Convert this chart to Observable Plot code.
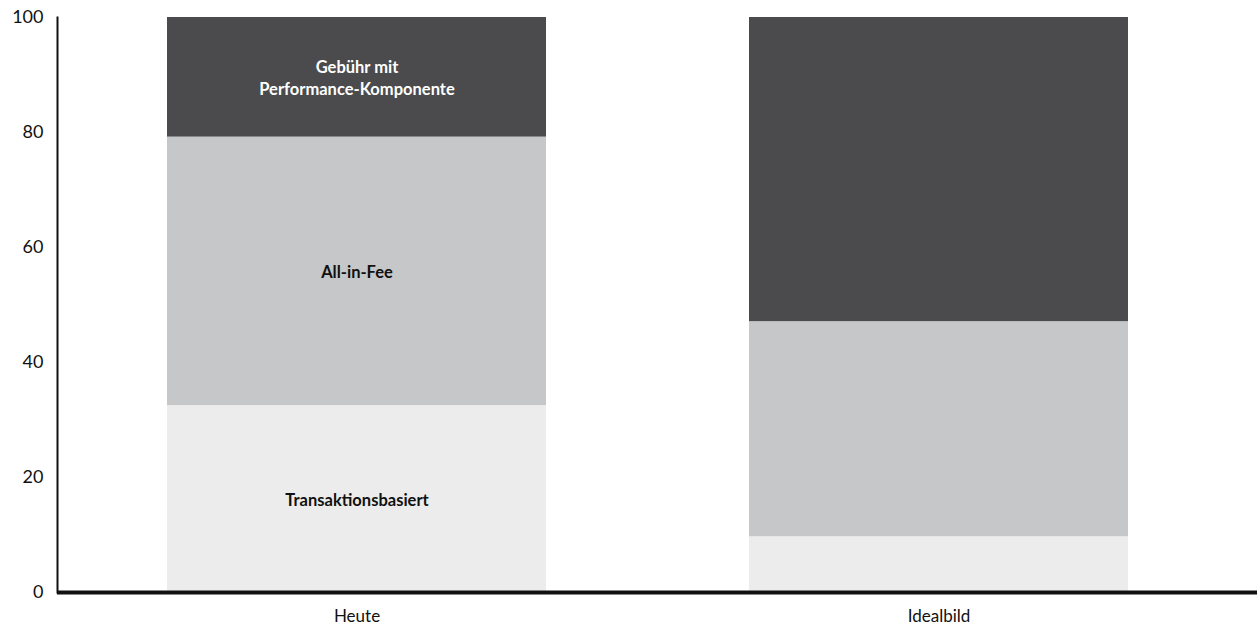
<!DOCTYPE html>
<html>
<head>
<meta charset="utf-8">
<script src="https://cdn.jsdelivr.net/npm/d3@7"></script>
<script src="https://cdn.jsdelivr.net/npm/@observablehq/plot@0.6"></script>
<style>
  html, body { margin: 0; padding: 0; background: #fff; }
  #chart svg { display: block; }
</style>
</head>
<body>
<div id="chart"></div>
<script>
// Fee models, share in percent, stacked bottom to top
const categories = ["Heute", "Idealbild"];
const types = ["Transaktionsbasiert", "All-in-Fee", "Gebühr mit\nPerformance-Komponente"];
const transaktionsbasiert = [32.5, 9.7];
const allInFee = [46.7, 37.4];
const gebuehr = [20.8, 52.9];
const yTicks = [0, 20, 40, 60, 80, 100];

const series = [transaktionsbasiert, allInFee, gebuehr];
const data = [];
categories.forEach((cat, i) => {
  types.forEach((type, j) => {
    data.push({category: cat, type, value: series[j][i]});
  });
});

const colors = ["#ebeceb", "#c6c7c8", "#4b4b4d"];
const textColors = {"Transaktionsbasiert": "#111", "All-in-Fee": "#111", "Gebühr mit\nPerformance-Komponente": "#fff"};

const chart = Plot.plot({
  width: 1257,
  height: 629,
  marginTop: 17,
  marginBottom: 37,
  marginLeft: 57,
  marginRight: 0,
  style: {fontFamily: "Lato, sans-serif", background: "#fff"},
  x: {domain: categories, range: [57, 1238], paddingInner: 0.349, paddingOuter: 0.189, label: null},
  y: {domain: [0, 100], label: null},
  color: {domain: types, range: colors},
  marks: [
    Plot.barY(data, Plot.stackY({x: "category", y: "value", fill: "type", order: types})),
    Plot.text(data, Plot.stackY({
      x: "category", y: "value", z: "type", order: types,
      filter: d => d.category === "Heute",
      text: "type",
      fill: d => textColors[d.type],
      fontSize: 16.5, fontWeight: "bold", lineHeight: 1.33
    })),
    Plot.axisY({ticks: yTicks, tickSize: 0, tickPadding: 14, fontSize: 18, fill: "#111"}),
    Plot.axisX({tickSize: 0, tickPadding: 17, fontSize: 17, fill: "#111"}),
    Plot.frame({anchor: "left", stroke: "#111", strokeWidth: 2}),
    Plot.ruleY([0], {stroke: "#111", strokeWidth: 4})
  ]
});
document.getElementById("chart").appendChild(chart);
</script>
</body>
</html>
